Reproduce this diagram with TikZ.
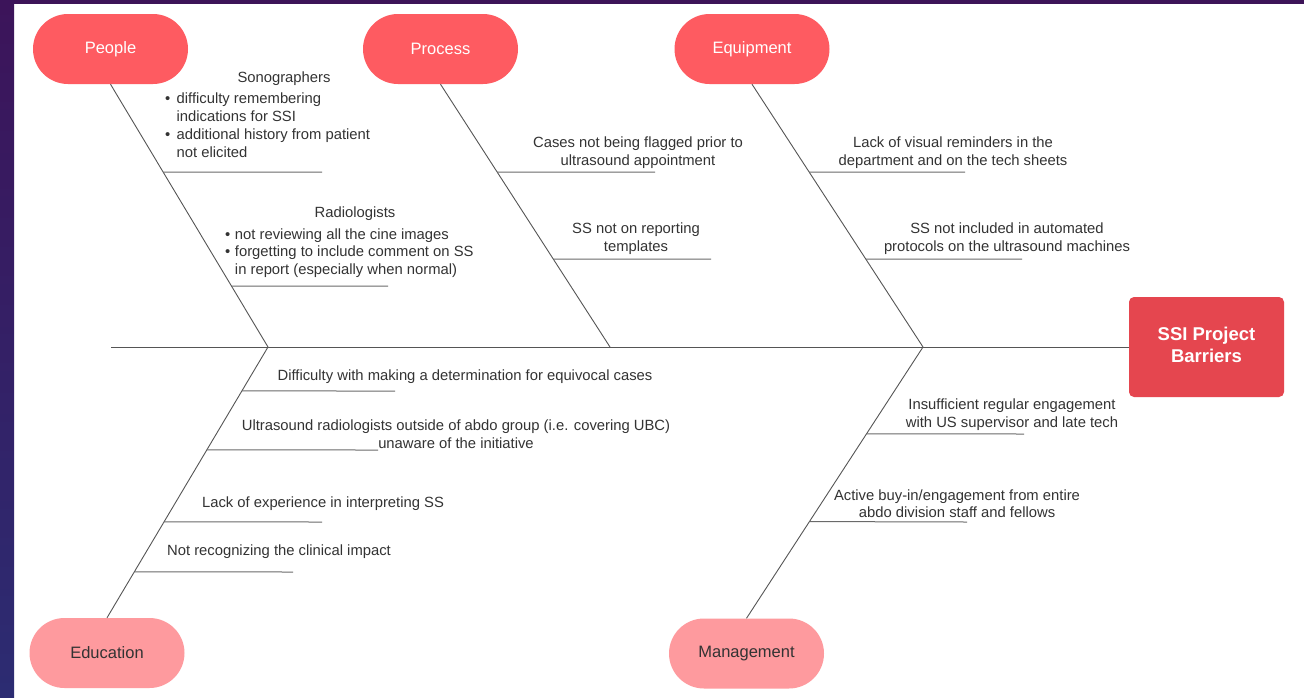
\documentclass[tikz,border=0pt]{standalone}
\usepackage{fontspec}
\setmainfont{Liberation Sans}
\usetikzlibrary{calc}
\definecolor{bgtop}{HTML}{3D1458}
\definecolor{bgmid}{HTML}{3C145A}
\definecolor{bgbot}{HTML}{2C2C72}
\definecolor{catred}{HTML}{FE5B61}
\definecolor{catpink}{HTML}{FE9A9E}
\definecolor{headred}{HTML}{E5464F}
\definecolor{txtgray}{HTML}{333333}
\definecolor{linegray}{HTML}{555555}
\definecolor{subgray}{HTML}{6A6A6A}
\begin{document}
\begin{tikzpicture}[x=1pt,y=-1pt,
  cat/.style={rectangle, rounded corners=35pt, minimum width=155pt, minimum height=70pt, inner sep=0pt, font=\fontsize{16.5}{19}\selectfont},
  topcat/.style={cat, fill=catred, text=white},
  botcat/.style={cat, fill=catpink, text=txtgray},
  bone/.style={draw=linegray, line width=0.9pt},
  sub/.style={draw=subgray, line width=1pt},
  lbl/.style={font=\fontsize{14.8}{17.8}\selectfont, text=txtgray, align=center, inner sep=0pt, yshift=-1.8pt},
  lst/.style={font=\fontsize{14.8}{17.8}\selectfont, text=txtgray, align=left, inner sep=0pt, anchor=north west},
]
\useasboundingbox (0,0) rectangle (1304,697);
% background
\fill[white] (0,0) rectangle (1304,697);
\fill[bgtop] (0,0) rectangle (1304,4);
\shade[top color=bgmid, bottom color=bgbot] (0,0) rectangle (14,697);

% head
\node[rectangle, rounded corners=5pt, fill=headred, minimum width=155pt, minimum height=100pt, inner sep=0pt,
      text=white, font=\fontsize{18.5}{22}\selectfont\bfseries] (H) at (1206.5,347)
      {\raisebox{2pt}{\begin{tabular}{@{}c@{}}SSI Project\\Barriers\end{tabular}}};

% categories
\node[topcat] (P)  at (110.5,49) {People};
\node[topcat] (Pr) at (440.5,49) {Process};
\node[topcat] (Eq) at (752,49)   {Equipment};
\node[botcat] (Ed) at (107,653)  {Education};
\node[botcat] (M)  at (746.5,653.5) {Management};

% spine
\coordinate (tail) at (111,347);
\coordinate (jP)  at (268,347);
\coordinate (jPr) at (610,347);
\coordinate (jE)  at (923,347);
\draw[bone] (tail) -- (H.west);

% bones
\draw[bone] (P.south) -- (jP);
\draw[bone] (Pr.south) -- (jPr);
\draw[bone] (Eq.south) -- (jE);
\draw[bone] (Ed.north) -- (jP);
\draw[bone] (M.north) -- (jE);

% sub-bones
\coordinate (a1) at ($(P.south)!0.3346!(jP)$);   \coordinate (b1) at (322,172);
\coordinate (a2) at ($(P.south)!0.768!(jP)$);    \coordinate (b2) at (388,286);
\coordinate (a3) at ($(Pr.south)!0.3346!(jPr)$); \coordinate (b3) at (655,172);
\coordinate (a4) at ($(Pr.south)!0.6654!(jPr)$); \coordinate (b4) at (711,259);
\coordinate (a5) at ($(Eq.south)!0.3346!(jE)$);  \coordinate (b5) at (965,172);
\coordinate (a6) at ($(Eq.south)!0.6654!(jE)$);  \coordinate (b6) at (1022,259);
\coordinate (a7) at ($(Ed.north)!0.8376!(jP)$);  \coordinate (b7) at (395,391);
\coordinate (a8) at ($(Ed.north)!0.6199!(jP)$);  \coordinate (b8) at (378,450);
\coordinate (a9) at ($(Ed.north)!0.3542!(jP)$);  \coordinate (b9) at (322,522);
\coordinate (a10) at ($(Ed.north)!0.1697!(jP)$); \coordinate (b10) at (293,572);
\coordinate (a11) at ($(M.north)!0.680!(jE)$);   \coordinate (b11) at (1024,434);
\coordinate (a12) at ($(M.north)!0.3566!(jE)$);  \coordinate (b12) at (967,522);
\foreach \i in {1,...,12} { \draw[sub] (a\i) -- (b\i); }

% People labels
\node[lbl] (sono) at (284,77) {Sonographers};
\node[lst] (sonol) at (165,91) {\begin{tabular}{@{}l@{\hspace{6.3pt}}l@{}}•&difficulty remembering\\ &indications for SSI\\ •&additional history from patient\\ &not elicited\end{tabular}};
\node[lbl] (radi) at (355,212) {Radiologists};
\node[lst] (radil) at (225,226.5) {\begin{tabular}{@{}l@{\hspace{4.6pt}}l@{}}•&not reviewing all the cine images\\ •&forgetting to include comment on SS\\ &in report (especially when normal)\end{tabular}};

% Process labels
\node[lbl] (pr1) at (638,150.5) {Cases not being flagged prior to\\ultrasound appointment};
\node[lbl] (pr2) at (636,237) {SS not on reporting\\templates};

% Equipment labels
\node[lbl] (eq1) at (953,150.5) {Lack of visual reminders in the\\department and on the tech sheets};
\node[lbl] (eq2) at (1007,237) {SS not included in automated\\protocols on the ultrasound machines};

% Education labels
\node[lbl] (ed1) at (465,375) {Difficulty with making a determination for equivocal cases};
\node[lbl] (ed2) at (456,432.5) {Ultrasound radiologists outside of abdo group (i.e. covering UBC)\\unaware of the initiative};
\node[lbl] (ed3) at (323,502) {Lack of experience in interpreting SS};
\node[lbl] (ed4) at (279,550) {Not recognizing the clinical impact};

% Management labels
\node[lbl] (m1) at (1012,413) {Insufficient regular engagement\\with US supervisor and late tech};
\node[lbl] (m2) at (957,502) {Active buy-in/engagement from entire\\abdo division staff and fellows};
\end{tikzpicture}
\end{document}
